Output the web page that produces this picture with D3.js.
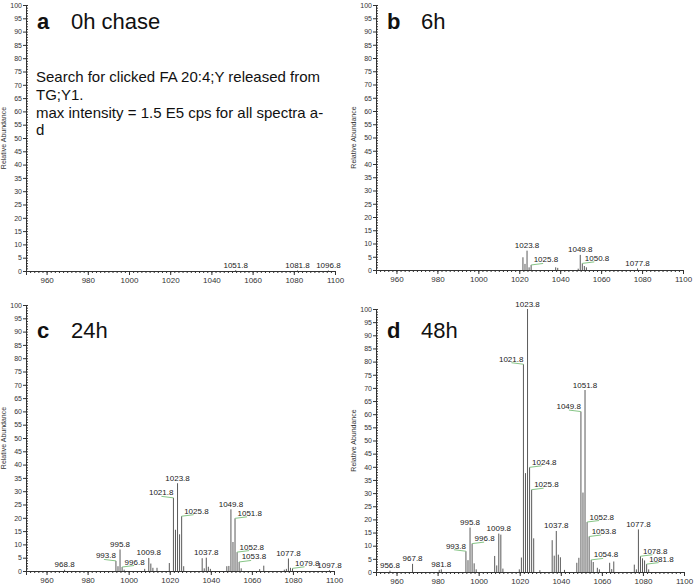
<!DOCTYPE html>
<html>
<head>
<meta charset="utf-8">
<script src="https://cdn.jsdelivr.net/npm/d3@7"></script>
<style>
  body { margin: 0; background: #fff; }
  svg { font-family: "Liberation Sans", Arial, sans-serif; }
</style>
</head>
<body>
<svg id="chart"></svg>
<script>
// tick labels
const xTicks = [960, 980, 1000, 1020, 1040, 1060, 1080, 1100];
const yTicks = [0, 5, 10, 15, 20, 25, 30, 35, 40, 45, 50, 55, 60, 65, 70, 75, 80, 85, 90, 95, 100];

const panelLetters = ["a", "b", "c", "d"];
const panelTitles = ["0h chase", "6h", "24h", "48h"];
const noteLines = [
  "Search for clicked FA 20:4;Y released from",
  "TG;Y1.",
  "max intensity = 1.5 E5 cps for all spectra a-",
  "d"
];

// peaks: m/z and relative abundance
const mzA  = [1051.8, 1081.8, 1096.8];
const intA = [0.3, 0.2, 0.2];
const labA = [[1051.8, "c"], [1081.8, "c"], [1096.8, "c"]];

const mzB  = [1021.8, 1022.8, 1023.8, 1024.8, 1025.8, 1037.8, 1038.8, 1048.8, 1049.8, 1050.8, 1051.8, 1052.8, 1077.8];
const intB = [4.8, 2.3, 7.3, 1.0, 1.9, 1.0, 0.8, 0.5, 5.7, 2.5, 1.5, 1.0, 0.6];
const labB = [[1023.8, "c"], [1025.8, "r"], [1049.8, "c"], [1050.8, "r"], [1077.8, "c"]];

const mzC  = [968.8, 993.8, 994.8, 995.8, 996.8, 997.8, 1007.8, 1009.8, 1010.8, 1011.8, 1013.8,
              1019.8, 1021.8, 1022.8, 1023.8, 1024.8, 1025.8, 1026.8,
              1035.8, 1036.8, 1037.8, 1038.8, 1039.8,
              1047.8, 1048.8, 1049.8, 1050.8, 1051.8, 1052.8, 1053.8, 1054.8,
              1063.8, 1065.8, 1075.8, 1076.8, 1077.8, 1078.8, 1079.8, 1097.8];
const intC = [0.5, 3.8, 1.8, 8.1, 1.5, 0.5, 0.8, 4.9, 2.8, 1.2, 1.2,
              3.0, 27.5, 15.5, 33.0, 13.8, 20.6, 1.8,
              4.8, 1.0, 5.0, 1.6, 0.8,
              1.8, 1.9, 23.2, 10.9, 19.8, 7.1, 3.4, 1.0,
              0.7, 2.0, 0.5, 0.8, 4.7, 1.2, 1.0, 0.3];
const labC = [[968.8, "c"], [993.8, "l"], [995.8, "c"], [996.8, "r"], [1009.8, "c"],
              [1021.8, "l"], [1023.8, "c"], [1025.8, "r"], [1037.8, "c"],
              [1049.8, "c"], [1051.8, "r"], [1052.8, "r"], [1053.8, "r"],
              [1077.8, "c"], [1079.8, "r"], [1097.8, "c"]];

const mzD  = [956.8, 967.8, 980.8, 981.8, 993.8, 994.8, 995.8, 996.8, 997.8, 998.8,
              1007.8, 1008.8, 1009.8, 1010.8, 1011.8, 1019.8, 1020.8,
              1021.8, 1022.8, 1023.8, 1024.8, 1025.8, 1026.8, 1029.8,
              1035.8, 1036.8, 1037.8, 1038.8, 1039.8, 1041.8,
              1047.8, 1048.8, 1049.8, 1050.8, 1051.8, 1052.8, 1053.8, 1054.8, 1055.8,
              1057.8, 1058.8, 1063.8, 1064.8, 1065.8,
              1075.8, 1076.8, 1077.8, 1078.8, 1079.8, 1080.8, 1081.8, 1082.8];
const intD = [0.5, 3.1, 0.8, 1.0, 7.9, 4.5, 16.9, 10.8, 3.3, 1.0,
              6.1, 2.5, 14.6, 14.2, 1.3, 1.0, 5.5,
              79.0, 37.6, 100, 39.8, 31.3, 12.8, 0.7,
              12.1, 6.2, 15.6, 6.6, 5.6, 0.8,
              3.5, 5.4, 61.0, 30.2, 69.2, 19.0, 13.5, 4.6, 3.8,
              1.6, 1.0, 3.5, 1.1, 4.0,
              2.8, 1.0, 16.2, 6.0, 5.2, 4.4, 3.0, 1.0];
const labD = [[956.8, "c"], [967.8, "c"], [981.8, "c"], [993.8, "l"], [995.8, "c"], [996.8, "r"],
              [1009.8, "c"], [1021.8, "l"], [1023.8, "c"], [1024.8, "r"], [1025.8, "r"],
              [1037.8, "c"], [1049.8, "l"], [1051.8, "c"], [1052.8, "r"], [1053.8, "r"],
              [1054.8, "r"], [1077.8, "c"], [1078.8, "r"], [1081.8, "r"]];

const panels = [
  {mz: mzA, int: intA, lab: labA},
  {mz: mzB, int: intB, lab: labB},
  {mz: mzC, int: intC, lab: labC},
  {mz: mzD, int: intD, lab: labD}
];

// plot frames (pixel layout, not data)
const layout = [
  {x0: 26,  x1: 335, y0: 271, y1: 5,   ty: 29},
  {x0: 376, x1: 683, y0: 270, y1: 5,   ty: 29},
  {x0: 26,  x1: 334, y0: 571, y1: 305, ty: 338},
  {x0: 376, x1: 684, y0: 572, y1: 309, ty: 338}
];

const svg = d3.select("#chart").attr("width", 694).attr("height", 587);

panels.forEach(function(p, i) {
  const L = layout[i];
  const g = svg.append("g");

  const x = d3.scaleLinear().domain([950, 1100]).range([L.x0, L.x1]);
  const y = d3.scaleLinear().domain([0, 100]).range([L.y0, L.y1]);

  // y axis
  const ya = g.append("g")
    .attr("transform", "translate(" + L.x0 + ",0)")
    .call(d3.axisLeft(y).tickValues(yTicks).tickSize(3).tickPadding(1));
  ya.append("g")
    .call(d3.axisRight(y).tickValues(d3.range(0, 101, 1)).tickSize(2).tickFormat(""))
    .select(".domain").remove();

  // x axis
  const xa = g.append("g")
    .attr("transform", "translate(0," + L.y0 + ")")
    .call(d3.axisBottom(x).tickValues(xTicks).tickSize(4).tickPadding(2).tickFormat(d3.format("d")));
  xa.append("g")
    .call(d3.axisBottom(x).tickValues(d3.range(950, 1101, 2)).tickSize(2).tickFormat(""))
    .select(".domain").remove();

  g.selectAll(".domain, .tick line").attr("stroke", "#333");
  ya.selectAll("text").attr("font-size", 7).attr("fill", "#333");
  xa.selectAll("text").attr("font-size", 8).attr("fill", "#333");

  g.append("text")
    .attr("transform", "translate(" + (L.x0 - 20) + "," + ((L.y0 + L.y1) / 2) + ") rotate(-90)")
    .attr("text-anchor", "middle")
    .attr("font-size", 7)
    .attr("fill", "#333")
    .text("Relative Abundance");

  // sticks
  g.selectAll("line.peak")
    .data(p.mz)
    .enter()
    .append("line")
    .attr("class", "peak")
    .attr("x1", d => x(d)).attr("x2", d => x(d))
    .attr("y1", y(0))
    .attr("y2", (d, j) => y(p.int[j]))
    .attr("stroke", "#5a5a5a")
    .attr("stroke-width", 1);

  // peak labels
  p.lab.forEach(function(l) {
    const v = p.int[p.mz.indexOf(l[0])];
    const px = x(l[0]), py = y(v);
    if (l[1] === "c") {
      g.append("text").attr("x", px).attr("y", py - 2.5)
        .attr("text-anchor", "middle").attr("font-size", 8).attr("fill", "#222")
        .text(l[0].toFixed(1));
    } else {
      const right = l[1] === "r";
      g.append("line")
        .attr("x1", px).attr("y1", py)
        .attr("x2", right ? px + 12 : px - 12).attr("y2", py - 1.5)
        .attr("stroke", "#86c586").attr("stroke-width", 1);
      g.append("text").attr("x", right ? px + 2.5 : px).attr("y", py - 2.5)
        .attr("text-anchor", right ? "start" : "end").attr("font-size", 8).attr("fill", "#222")
        .text(l[0].toFixed(1));
    }
  });

  // panel title
  g.append("text").attr("x", L.x0 + 11).attr("y", L.ty)
    .attr("font-size", 22).attr("font-weight", "bold").attr("fill", "#111")
    .text(panelLetters[i]);
  g.append("text").attr("x", L.x0 + 45).attr("y", L.ty)
    .attr("font-size", 22).attr("fill", "#111")
    .text(panelTitles[i]);
});

// note in panel a
svg.selectAll("text.note")
  .data(noteLines)
  .enter()
  .append("text")
  .attr("class", "note")
  .attr("x", 36)
  .attr("y", (d, i) => 82 + i * 17.8)
  .attr("font-size", 15)
  .attr("fill", "#111")
  .text(d => d);
</script>
</body>
</html>
